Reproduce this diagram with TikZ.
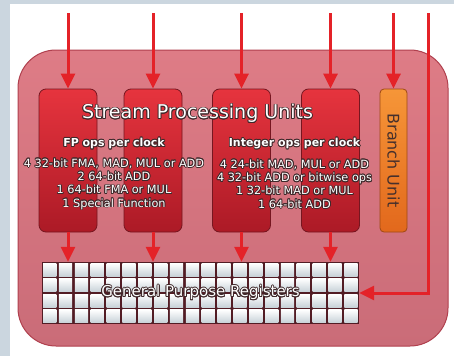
\documentclass[tikz,border=0pt]{standalone}
\usepackage{fontspec}
\setmainfont{DejaVu Sans}
\usepackage{contour}
\contourlength{0.8pt}
\contournumber{12}
\usetikzlibrary{arrows.meta,positioning}

\definecolor{bgblue}{RGB}{203,214,223}
\definecolor{paneltop}{RGB}{222,124,134}
\definecolor{panelbot}{RGB}{202,108,120}
\definecolor{panelline}{RGB}{176,64,78}
\definecolor{coltop}{RGB}{230,52,62}
\definecolor{colbot}{RGB}{172,26,38}
\definecolor{colline}{RGB}{118,22,32}
\definecolor{orangetop}{RGB}{246,150,56}
\definecolor{orangebot}{RGB}{226,104,28}
\definecolor{arrowred}{RGB}{228,34,40}
\definecolor{gridline}{RGB}{82,28,36}
\definecolor{cellgray}{RGB}{200,210,216}
\definecolor{darktext}{RGB}{70,48,44}
\definecolor{outl}{RGB}{62,40,42}

% white letters with a dark rim
\newcommand{\ol}[1]{\contour{outl}{#1}}

\tikzset{
  panel/.style={draw=panelline, line width=1pt, rounded corners=38pt,
    top color=paneltop, bottom color=panelbot,
    minimum width=430pt, minimum height=296pt, inner sep=0pt},
  col/.style={draw=colline, line width=0.8pt, rounded corners=7pt,
    top color=coltop, bottom color=colbot,
    minimum width=58pt, minimum height=143pt, inner sep=0pt},
  branch/.style={draw=orangebot!70!black, line width=0.8pt, rounded corners=4pt,
    top color=orangetop, bottom color=orangebot,
    minimum width=27pt, minimum height=143pt, inner sep=0pt},
  regs/.style={fill=gridline, minimum width=317pt, minimum height=62pt, inner sep=0pt},
  feed/.style={-{Triangle[width=14pt,length=15pt]}, arrowred, line width=3pt},
  title/.style={text=white, font=\fontsize{19}{22}\selectfont},
  head/.style={text=white, font=\bfseries\fontsize{11}{13}\selectfont},
  ops/.style={text=white, align=center, font=\fontsize{11.3}{13.3}\selectfont},
}

\begin{document}
\begin{tikzpicture}[x=1pt, y=-1pt]

  \fill[bgblue] (0,0) rectangle (454,356);
  \fill[white] (10,4) rectangle (454,356);

  \node (P) [panel] at (233,198) {};

  % processing columns
  \node (C1) [col] at (68,160.5) {};
  \node (C2) [col] at (153,160.5) {};
  \node (C3) [col] at (241.5,160.5) {};
  \node (C4) [col] at (330.5,160.5) {};
  \node (BU) [branch] at (393.5,160.5) {};
  \node (BL) [rotate=-90, text=darktext, font=\fontsize{16}{18}\selectfont] at (BU) {Branch Unit};

  % register file
  \node (R) [regs] at (200.5,293) {};
  \foreach \i in {0,...,19}{
    \foreach \j in {0,...,3}{
      \shade[top color=white, bottom color=cellgray]
        ([shift={(\i*15.85+1.3,\j*15.5+1.3)}]R.north west) rectangle +(13.25,12.9);
    }
  }
  \node (GPR) [text=white, font=\fontsize{15}{17}\selectfont] at (R) {\ol{General Purpose Registers}};

  % labels
  \node (SPU) [title] at (197.5,114) {\ol{Stream Processing Units}};
  \node (FP) [head] at (114,144) {\ol{FP ops per clock}};
  \node (FPops) [ops] at (114,184.5) {\ol{4 32-bit FMA, MAD, MUL or ADD}\\ \ol{2 64-bit ADD}\\
    \ol{1 64-bit FMA or MUL}\\ \ol{1 Special Function}};
  \node (INT) [head] at (294.5,144) {\ol{Integer ops per clock}};
  \node (INTops) [ops] at (294.5,184.5) {\ol{4 24-bit MAD, MUL or ADD}\\ \ol{4 32-bit ADD or bitwise ops}\\
    \ol{1 32-bit MAD or MUL}\\ \ol{1 64-bit ADD}};

  % inputs
  \coordinate (T1) at (68,13);
  \coordinate (T2) at (153,13);
  \coordinate (T3) at (241.5,13);
  \coordinate (T4) at (330.5,13);
  \coordinate (T5) at (393.5,13);
  \coordinate (T6) at (428,13);

  \path[feed]
      (T1) edge (C1.north)
      (T2) edge (C2.north)
      (T3) edge (C3.north)
      (T4) edge (C4.north)
      (T5) edge (BU.north)
      (C1.south) edge (C1 |- R.north)
      (C2.south) edge (C2 |- R.north)
      (C3.south) edge (C3 |- R.north)
      (C4.south) edge (C4 |- R.north);
  \draw[feed] (T6) |- (R.east);

\end{tikzpicture}
\end{document}
